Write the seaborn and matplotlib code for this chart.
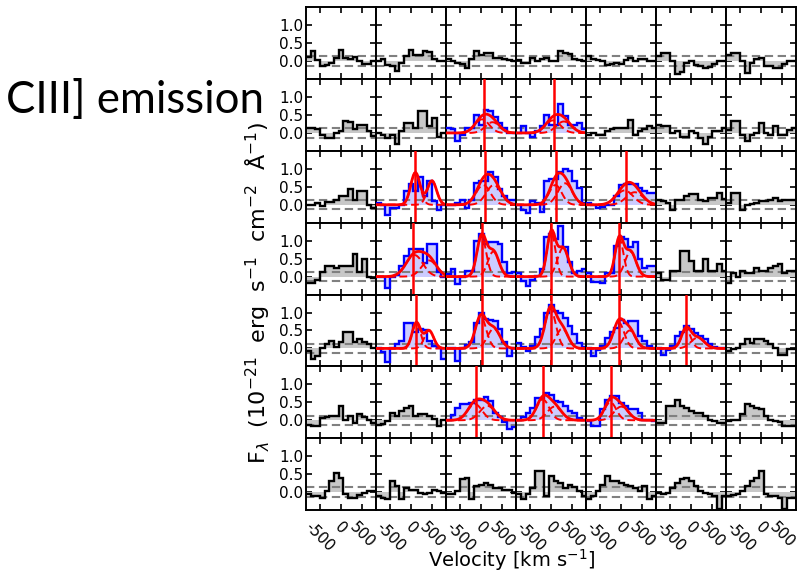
import numpy as np
import matplotlib
matplotlib.use("Agg")
import matplotlib.pyplot as plt
import seaborn as sns

# Velocity bin edges (km/s) shared by every spectrum
vel_edges = [-833, -722, -611, -500, -389, -278, -167, -56, 56, 167, 278, 389, 500, 611, 722, 833]

# Flux density per panel, one list of 7 spectra for each row of the grid
flux_row0 = [
    [0.12, 0.27, 0.02, -0.14, -0.1, -0.05, 0.08, 0.3, 0.1, 0.05, 0.12, 0.0, -0.08, -0.08, 0.0],
    [0.0, 0.05, -0.1, -0.14, -0.27, -0.05, 0.14, 0.3, 0.18, 0.18, 0.27, 0.25, 0.05, 0.0, 0.0],
    [0.05, 0.0, -0.05, -0.08, -0.18, 0.05, 0.27, 0.18, 0.23, 0.23, 0.1, 0.08, 0.05, 0.03, 0.0],
    [0.03, -0.05, -0.05, 0.08, 0.0, 0.05, 0.09, 0.0, 0.0, 0.27, 0.23, 0.2, 0.05, 0.03, 0.0],
    [0.14, 0.06, 0.03, 0.0, -0.1, -0.09, -0.05, -0.09, 0.04, 0.09, 0.0, 0.06, 0.06, 0.0, 0.0],
    [0.14, 0.23, 0.23, 0.0, -0.36, -0.3, -0.05, 0.0, -0.1, -0.14, -0.18, -0.15, -0.09, 0.0, 0.0],
    [0.18, 0.23, 0.23, 0.0, -0.32, -0.05, 0.05, 0.09, -0.14, -0.14, -0.18, -0.18, -0.09, 0.0, 0.0],
]
flux_row1 = [
    [0.14, 0.14, 0.1, -0.05, -0.14, -0.14, 0.0, 0.05, 0.32, 0.3, 0.1, 0.23, 0.22, 0.05, -0.08],
    [0.0, -0.05, -0.14, -0.05, -0.32, 0.05, 0.27, 0.27, 0.14, 0.6, 0.6, 0.2, 0.41, -0.1, 0.0],
    [0.14, 0.12, -0.23, -0.05, 0.14, 0.14, 0.5, 0.23, 0.64, 0.6, 0.45, 0.27, 0.14, 0.0, 0.0],
    [0.0, 0.18, 0.0, -0.1, 0.05, 0.19, 0.5, 0.23, 0.23, 0.8, 0.47, 0.23, 0.23, 0.28, 0.1],
    [-0.05, 0.0, -0.05, -0.05, 0.05, 0.1, 0.14, 0.14, 0.14, 0.36, -0.05, 0.05, 0.1, 0.18, 0.14],
    [0.23, 0.18, 0.18, 0.0, 0.05, -0.1, -0.1, 0.05, 0.0, -0.15, -0.32, -0.1, 0.05, 0.05, 0.14],
    [0.09, 0.32, 0.32, -0.05, -0.23, -0.05, 0.0, 0.27, 0.0, -0.05, 0.18, -0.05, -0.05, 0.09, 0.14],
]
flux_row2 = [
    [0.0, 0.0, 0.05, -0.03, 0.07, 0.07, 0.14, 0.24, 0.24, 0.43, 0.14, 0.38, 0.38, 0.0, -0.1],
    [0.05, 0.0, -0.28, -0.1, -0.1, 0.0, 0.38, 0.57, 0.38, 0.76, 0.24, 0.67, 0.1, -0.14, 0.0],
    [0.0, 0.0, 0.05, 0.14, -0.1, 0.14, 0.6, 0.67, 0.67, 0.9, 0.76, 0.43, 0.24, 0.14, 0.14],
    [0.0, -0.14, -0.24, 0.1, 0.05, -0.19, 0.67, 0.71, 0.71, 0.9, 1.0, 0.95, 0.67, 0.48, 0.05],
    [0.05, 0.0, -0.08, -0.05, 0.0, 0.0, 0.25, 0.55, 0.57, 0.57, 0.57, 0.48, 0.38, 0.33, 0.33],
    [0.14, 0.1, 0.05, -0.14, 0.14, 0.14, 0.24, 0.29, 0.29, 0.14, 0.1, 0.2, 0.2, 0.33, 0.17],
    [0.05, 0.33, 0.33, -0.14, 0.0, 0.02, 0.05, 0.1, 0.1, 0.14, 0.19, 0.1, 0.14, 0.14, 0.14],
]
flux_row3 = [
    [-0.19, -0.19, -0.1, 0.14, 0.29, 0.29, 0.24, 0.29, 0.29, 0.29, 0.62, 0.14, 0.48, 0.0, -0.05],
    [0.0, 0.0, -0.33, 0.0, 0.05, 0.29, 0.57, 0.76, 0.76, 0.78, 0.38, 0.9, 0.9, 0.14, 0.0],
    [0.07, 0.2, -0.22, 0.0, 0.16, 0.16, 1.0, 1.2, 0.92, 0.95, 0.95, 0.9, 0.4, 0.11, 0.12],
    [0.11, -0.12, -0.27, -0.1, 0.02, 0.2, 1.1, 1.2, 1.06, 1.4, 0.83, 0.4, 0.11, 0.15, 0.2],
    [0.1, -0.14, -0.14, -0.18, 0.1, 0.1, 0.86, 1.1, 1.05, 0.82, 0.96, 0.48, 0.25, 0.3, 0.3],
    [0.1, -0.09, -0.09, 0.15, 0.15, 0.72, 0.72, 0.44, 0.15, 0.15, 0.49, 0.15, 0.15, 0.34, 0.15],
    [-0.18, 0.1, 0.0, 0.15, 0.1, 0.1, 0.24, 0.15, 0.15, 0.24, 0.3, 0.34, 0.1, 0.15, 0.15],
]
flux_row4 = [
    [-0.06, -0.3, -0.2, 0.0, 0.12, 0.2, 0.03, 0.17, 0.45, 0.45, 0.17, 0.26, 0.17, 0.12, 0.0],
    [0.0, -0.1, -0.38, 0.0, 0.12, 0.2, 0.72, 0.72, 0.45, 0.55, 0.5, 0.2, 0.07, 0.0, -0.3],
    [0.0, 0.0, -0.34, 0.0, 0.1, 0.17, 0.72, 1.0, 0.82, 0.8, 0.77, 0.54, 0.17, -0.2, 0.0],
    [0.15, 0.05, -0.08, 0.06, 0.33, 0.53, 1.0, 1.2, 1.04, 1.0, 0.84, 0.62, 0.4, 0.15, 0.05],
    [0.0, -0.2, -0.05, 0.06, 0.3, 0.45, 0.57, 0.8, 0.7, 0.76, 0.76, 0.35, 0.2, 0.06, 0.0],
    [0.0, -0.17, -0.05, 0.06, 0.34, 0.45, 0.62, 0.53, 0.44, 0.35, 0.25, 0.11, 0.05, 0.02, 0.0],
    [-0.07, -0.03, 0.0, 0.11, 0.25, 0.16, 0.25, 0.25, 0.2, 0.11, 0.02, -0.17, -0.17, -0.03, -0.03],
]
flux_row5 = [
    [-0.12, -0.15, -0.17, 0.06, 0.1, 0.11, 0.11, 0.4, 0.02, 0.11, -0.07, 0.16, 0.1, 0.02, -0.07],
    [-0.12, -0.1, -0.03, 0.2, 0.11, 0.25, 0.34, 0.4, 0.11, 0.16, 0.16, 0.11, 0.04, -0.17, 0.0],
    [0.0, 0.15, 0.34, 0.44, 0.44, 0.48, 0.57, 0.57, 0.65, 0.53, 0.2, 0.1, -0.05, -0.25, -0.2],
    [0.0, 0.1, 0.2, 0.34, 0.62, 0.62, 0.76, 0.71, 0.53, 0.5, 0.39, 0.25, 0.2, 0.06, 0.0],
    [-0.03, -0.17, -0.17, 0.3, 0.57, 0.67, 0.67, 0.48, 0.39, 0.3, 0.3, 0.2, 0.02, 0.0, -0.03],
    [-0.07, -0.07, 0.39, 0.39, 0.57, 0.39, 0.34, 0.25, 0.2, 0.2, 0.11, 0.0, -0.03, -0.07, -0.07],
    [-0.03, 0.0, 0.02, 0.16, 0.44, 0.39, 0.34, 0.3, 0.11, 0.02, -0.03, -0.05, -0.17, -0.17, -0.17],
]
flux_row6 = [
    [-0.06, -0.11, -0.11, -0.16, 0.03, 0.3, 0.54, 0.4, -0.06, -0.16, -0.16, -0.09, -0.02, 0.03, 0.03],
    [-0.1, -0.16, -0.2, 0.3, 0.17, -0.2, 0.12, 0.07, 0.07, -0.02, -0.06, -0.02, 0.07, 0.03, -0.02],
    [-0.06, -0.06, 0.03, 0.35, 0.4, -0.2, 0.17, 0.21, 0.26, 0.2, 0.12, 0.12, 0.07, 0.05, -0.02],
    [-0.06, -0.2, -0.05, 0.1, 0.6, 0.6, -0.11, 0.45, 0.3, 0.26, 0.12, 0.19, 0.15, 0.03, -0.11],
    [-0.2, -0.1, 0.03, 0.21, 0.45, 0.3, 0.3, 0.26, 0.21, 0.17, 0.1, 0.03, 0.17, -0.2, -0.11],
    [-0.02, -0.06, -0.02, 0.1, 0.26, 0.35, 0.4, 0.3, 0.17, 0.03, -0.02, -0.06, -0.11, -0.48, -0.1],
    [-0.11, -0.08, -0.06, 0.03, 0.17, 0.3, 0.4, 0.58, -0.06, -0.11, -0.11, -0.16, -0.48, -0.16, -0.16],
]
flux_rows = [flux_row0, flux_row1, flux_row2, flux_row3, flux_row4, flux_row5, flux_row6]

# Spaxels with a detected line: (row, column) of each panel
fit_cells = [(1, 2), (1, 3), (2, 1), (2, 2), (2, 3), (2, 4), (3, 1), (3, 2), (3, 3),
             (3, 4), (4, 1), (4, 2), (4, 3), (4, 4), (4, 5), (5, 2), (5, 3), (5, 4)]
# Reference velocity marked in each fitted panel (km/s)
v_ref = [64, 76, 102, 81, 116, 111, 45, 9, 0, -47, 125, 9, 0, -47, -126, -133, -185, -244]
# Two-component Gaussian fit parameters: amplitude, centre (km/s), sigma (km/s)
amp_1 = [0.38, 0.35, 0.9, 0.55, 0.55, 0.4, 0.6, 1.12, 1.22, 1.05, 0.72, 0.88, 1.1, 0.72, 0.53, 0.45, 0.58, 0.5]
cen_1 = [20, 40, 102, 50, 100, 80, 80, 10, 0, -47, 125, -10, -20, -60, -126, -150, -200, -260]
sig_1 = [170, 180, 110, 170, 150, 200, 200, 110, 100, 100, 100, 130, 130, 130, 110, 170, 150, 140]
amp_2 = [0.3, 0.32, 0.67, 0.55, 0.6, 0.35, 0.45, 0.7, 0.8, 0.7, 0.5, 0.55, 0.55, 0.5, 0.3, 0.4, 0.38, 0.38]
cen_2 = [270, 300, 495, 300, 330, 320, 430, 290, 280, 220, 425, 300, 260, 200, 150, 150, 80, 0]
sig_2 = [170, 180, 110, 180, 170, 200, 180, 130, 130, 130, 110, 150, 140, 140, 160, 180, 170, 170]

# Noise level (dashed grey lines)
noise_hi, noise_lo = 0.13, -0.13

sns.set_style("ticks")
plt.rcParams["font.family"] = ["DejaVu Sans"]
plt.rcParams["mathtext.fontset"] = "dejavusans"
plt.rcParams["text.color"] = "black"
plt.rcParams["xtick.color"] = "black"
plt.rcParams["ytick.color"] = "black"
plt.rcParams["xtick.labelcolor"] = "black"
plt.rcParams["ytick.labelcolor"] = "black"

fig, axes = plt.subplots(7, 7, figsize=(7.98, 5.82), dpi=100, sharex=True, sharey=True)
fig.subplots_adjust(left=0.3835, right=0.998, top=0.9875, bottom=0.1237, wspace=0, hspace=0)

vgrid = np.linspace(vel_edges[0], vel_edges[-1], 61)
fit_lookup = {cell: i for i, cell in enumerate(fit_cells)}

for r in range(7):
    for c in range(7):
        ax = axes[r, c]
        flux = flux_rows[r][c]
        fitted = (r, c) in fit_lookup
        line_col = "#0000ff" if fitted else "black"
        fill_col = "#ccccff" if fitted else "#c8c8c8"

        ax.stairs(flux, vel_edges, baseline=0, fill=True, color=fill_col, lw=0, zorder=1)
        ax.axhline(noise_hi, color="0.5", ls=(0, (4, 2.2)), lw=1.5, zorder=2)
        ax.axhline(noise_lo, color="0.5", ls=(0, (4, 2.2)), lw=1.5, zorder=2)
        ax.stairs(flux, vel_edges, baseline=None, color=line_col, lw=1.7, zorder=3)

        if fitted:
            i = fit_lookup[(r, c)]
            g1 = amp_1[i] * np.exp(-0.5 * ((vgrid - cen_1[i]) / sig_1[i]) ** 2)
            g2 = amp_2[i] * np.exp(-0.5 * ((vgrid - cen_2[i]) / sig_2[i]) ** 2)
            sns.lineplot(x=vgrid, y=g1, ax=ax, color="red", lw=1.4, linestyle=(0, (4, 2)), zorder=4)
            sns.lineplot(x=vgrid, y=g2, ax=ax, color="red", lw=1.4, linestyle=(0, (4, 2)), zorder=4)
            sns.lineplot(x=vgrid, y=g1 + g2, ax=ax, color="red", lw=2.0, zorder=5)
            ax.axvline(v_ref[i], color="red", lw=1.8, zorder=6)

        ax.set_xlim(vel_edges[0], vel_edges[-1])
        ax.set_ylim(-0.5, 1.5)
        ax.set_xticks([-500, 0, 500])
        ax.set_yticks([0.0, 0.5, 1.0])
        ax.tick_params(direction="in", top=True, right=True, length=4, width=1.2,
                       labelsize=11, color="black", labelcolor="black", pad=2)
        for sp in ax.spines.values():
            sp.set_color("black")
            sp.set_linewidth(1.4)
            sp.set_visible(True)
        ax.set_xlabel("")
        ax.set_ylabel("")

for r in range(7):
    axes[r, 0].set_yticklabels(["0.0", "0.5", "1.0"])
for c in range(7):
    axes[6, c].set_xticklabels(["-500", "0", "500"], rotation=-45, ha="center", va="top")
    axes[6, c].tick_params(axis="x", pad=7)

fig.text(258 / 798, 1 - 293 / 582,
         r"F$_\lambda$  (10$^{-21}$  erg  s$^{-1}$  cm$^{-2}$  $\mathrm{\AA}^{-1}$)",
         rotation=90, ha="center", va="center", fontsize=16, color="black")
fig.text(512 / 798, 1 - 567 / 582, r"Velocity [km s$^{-1}$]",
         ha="center", va="baseline", fontsize=14, color="black")
fig.text(6 / 798, 1 - 113 / 582, "CIII] emission", family=["Lato", "DejaVu Sans"],
         fontsize=31.5, ha="left", va="baseline", color="black")

fig.savefig("out.png", dpi=100)
